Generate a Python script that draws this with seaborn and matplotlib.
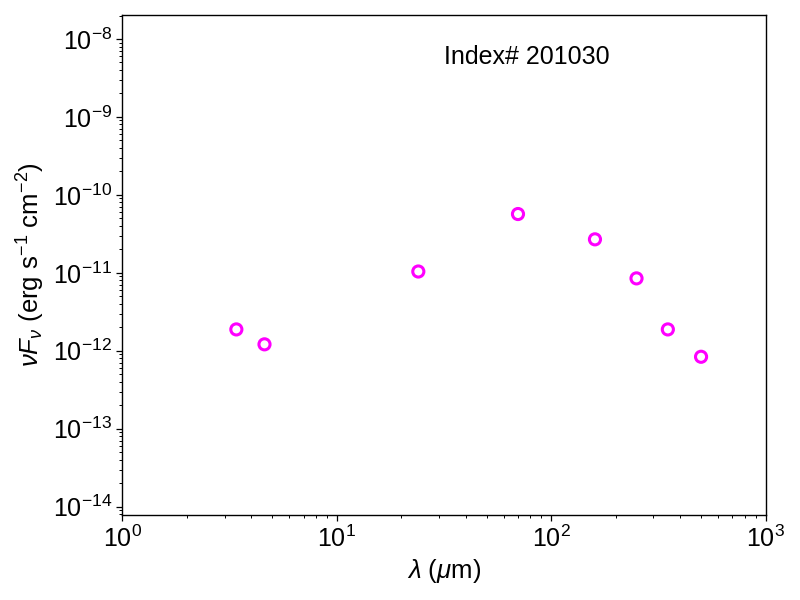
import matplotlib
matplotlib.use("Agg")
import matplotlib.pyplot as plt
import seaborn as sns
import pandas as pd

wavelength_um = [3.4, 4.6, 24, 70, 160, 250, 350, 500]
nuFnu = [1.88e-12, 1.21e-12, 1.04e-11, 5.68e-11, 2.69e-11, 8.49e-12, 1.88e-12, 8.38e-13]
label_text = "Index# 201030"

sns.set_style("ticks")
plt.rcParams['font.family'] = ['Liberation Sans', 'DejaVu Sans']
plt.rcParams['text.color'] = 'black'
plt.rcParams['axes.labelcolor'] = 'black'
plt.rcParams['mathtext.fontset'] = 'custom'
plt.rcParams['mathtext.rm'] = 'Liberation Sans'
plt.rcParams['mathtext.it'] = 'Liberation Sans:italic'
plt.rcParams['mathtext.bf'] = 'Liberation Sans:bold'
plt.rcParams['mathtext.sf'] = 'Liberation Sans'

df = pd.DataFrame({"lam": wavelength_um, "f": nuFnu})

fig = plt.figure(figsize=(8, 6), dpi=100)
ax = fig.add_axes([0.153, 0.1417, 0.804, 0.8333])
sns.scatterplot(data=df, x="lam", y="f", ax=ax, marker="o", s=64,
                facecolors="none", edgecolor="#ff00ff", linewidth=2.2, zorder=3)
ax.set_xscale("log")
ax.set_yscale("log")
ax.set_xlim(1, 1000)
ax.set_ylim(7.83e-15, 2.03e-8)
for s in ax.spines.values():
    s.set_visible(True)
    s.set_color("black")
    s.set_linewidth(1.0)
ax.tick_params(which="both", direction="out", colors="black", labelsize=18)
ax.tick_params(which="major", length=4, width=0.9)
ax.tick_params(which="minor", length=2.2, width=0.7)
ax.set_xlabel(r"$\lambda$ ($\mu$m)", fontsize=18.5, color="black")
ax.set_ylabel(r"$\nu F_\nu$ (erg s$^{-1}$ cm$^{-2}$)", fontsize=18.5, color="black")
ax.text(0.629, 0.916, label_text, transform=ax.transAxes, ha="center", va="center",
        fontsize=18, color="black")
fig.savefig("out.png", dpi=100)
